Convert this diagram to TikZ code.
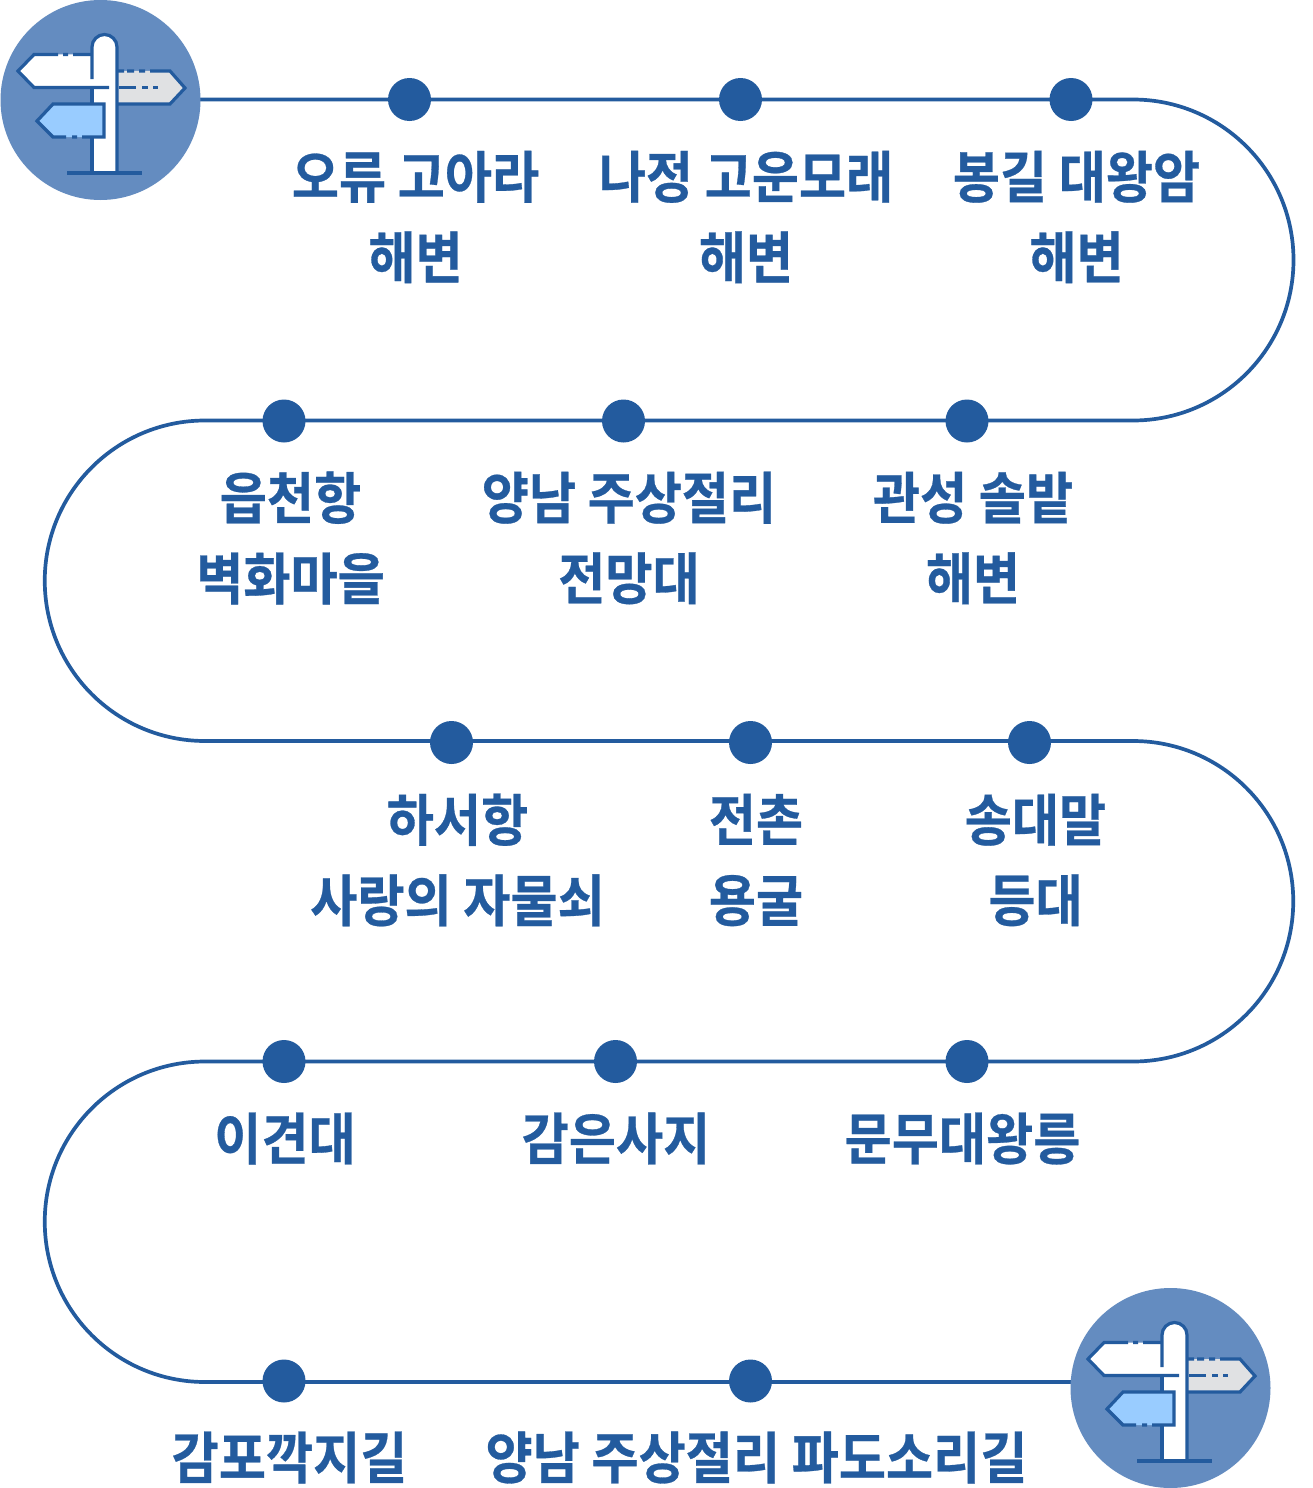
\documentclass[tikz,border=0pt]{standalone}
\usepackage{fontspec}
\setmainfont[FakeStretch=0.915,FakeBold=0.5]{Noto Sans CJK KR Bold}
\definecolor{rt}{HTML}{235B9E}
\definecolor{disc}{HTML}{648CC0}
\definecolor{signblue}{HTML}{99CCFF}
\definecolor{signgrey}{HTML}{E0E1E3}
\tikzset{
  stopdot/.style={circle,fill=rt,minimum size=43pt,inner sep=0pt},
  lbl/.style={text=rt,align=center,inner sep=0pt,font=\fontsize{56}{80.5}\selectfont,anchor=center},
  route/.style={draw=rt,line width=3.7pt},
  ico/.style={draw=rt,line width=3.2pt},
  signicon/.pic={
    \fill[disc] (100.5,100) circle (100);
    % white sign
    \fill[white] (18,71) -- (34,54.5) -- (92,54.5) -- (92,87.5) -- (34,87.5) -- cycle;
    % grey sign
    \fill[signgrey] (117,71) -- (170,71) -- (185,88) -- (170,104) -- (117,104) -- cycle;
    % post
    \fill[white] (92,173) -- (92,47) arc[start angle=180,end angle=360,radius=12.5] -- (117,173) -- cycle;
    % blue sign
    \fill[signblue] (37,121) -- (53,104) -- (104,104) -- (104,137) -- (53,137) -- cycle;
    \draw[ico] (117,173) -- (117,47) arc[start angle=0,end angle=-180,radius=12.5] -- (92,79);
    \draw[ico] (92,88) -- (92,104);
    \draw[ico] (92,137) -- (92,173);
    \draw[ico] (67,173) -- (142,173);
    % white outline
    \draw[ico] (91,54.5) -- (73,54.5) (68,54.5) -- (63,54.5) (58,54.5) -- (34,54.5) -- (18,71) -- (34,87.5) -- (109,87.5);
    % grey outline
    \draw[ico] (118,71) -- (124,71) (127,71) -- (134,71) (139,71) -- (145,71) (150,71) -- (170,71) -- (185,88) -- (170,104) -- (118,104);
    \draw[ico] (119,87.5) -- (136,87.5) (142,87.5) -- (148,87.5) (153,87.5) -- (158,87.5);
    % blue outline
    \draw[ico] (92,104) -- (104,104) -- (104,137) -- (82,137) (77,137) -- (72,137) (66,137) -- (53,137) -- (37,121) -- (53,104) -- (92,104);
  }
}
\begin{document}
\begin{tikzpicture}[x=1pt,y=-1pt]
\useasboundingbox (0,0) rectangle (1312,1488);
\fill[white] (0,0) rectangle (1312,1488);
\coordinate (s) at (200,99.5);
\coordinate (e) at (1071,1382);
\draw[route] (s) -- (1133,99.5) arc[start angle=-90,end angle=90,radius=160.5]
  -- (205,420.5) arc[start angle=270,end angle=90,radius=160.25]
  -- (1133,741) arc[start angle=-90,end angle=90,radius=160.25]
  -- (205,1061.5) arc[start angle=270,end angle=90,radius=160.25]
  -- (e);
\pic at (0,0) {signicon};
\pic at (1070,1288) {signicon};
\foreach \n/\x/\y in {a/409.5/99.5,b/740.5/99.5,c/1071/99.5,
  d/284/421,f/623.5/421,g/967/421,
  h/451.5/742.5,i/750.5/742.5,j/1029.5/742.5,
  k/284/1061.5,l/615.5/1061.5,m/967/1061.5,
  o/284/1381,p/750.5/1381}
  \node[stopdot] (\n) at (\x,\y) {};
\node[lbl] (ta) at (415.5,217) {오류 고아라\\해변};
\node[lbl] (tb) at (746,217) {나정 고운모래\\해변};
\node[lbl] (tc) at (1076.5,217) {봉길 대왕암\\해변};
\node[lbl] (td) at (290.5,538) {읍천항\\벽화마을};
\node[lbl] (tf) at (629,538) {양남 주상절리\\전망대};
\node[lbl] (tg) at (973,538) {관성 솔밭\\해변};
\node[lbl] (th) at (457.5,860) {하서항\\사랑의 자물쇠};
\node[lbl] (ti) at (756,860) {전촌\\용굴};
\node[lbl] (tj) at (1035.5,860) {송대말\\등대};
\node[lbl] (tk) at (285,1138.5) {이견대};
\node[lbl] (tl) at (616,1138.5) {감은사지};
\node[lbl] (tm) at (962.5,1138.5) {문무대왕릉};
\node[lbl] (to) at (289.5,1457.5) {감포깍지길};
\node[lbl] (tp) at (756.5,1457.5) {양남 주상절리 파도소리길};
\end{tikzpicture}
\end{document}
